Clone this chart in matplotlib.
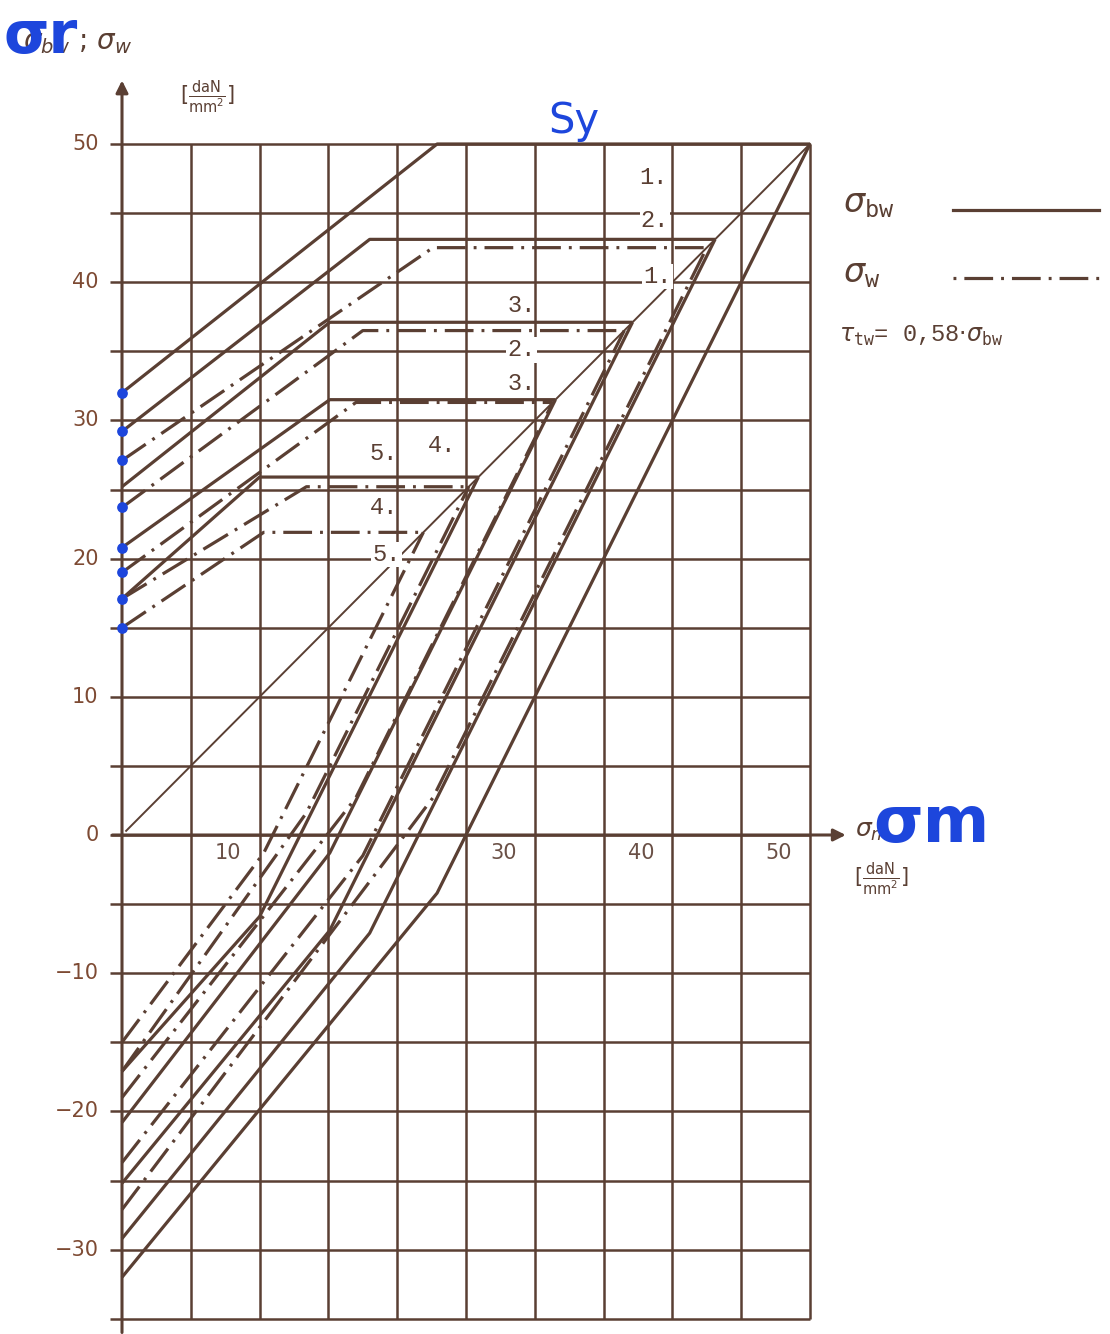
import numpy as np
import matplotlib
matplotlib.use('Agg')
import matplotlib.pyplot as plt

# Smith diagram data, units daN/mm2
# sigma_bw families (solid)
bw_sigma_a = [32.0, 29.2, 25.2, 20.8, 17.1]
bw_yield = [50.0, 43.1, 37.1, 31.5, 25.9]
bw_knee = [22.9, 18.0, 15.1, 15.1, 10.0]

# sigma_w families (dash-dot)
w_sigma_a = [27.1, 23.7, 19.0, 17.1, 15.0]
w_yield = [42.5, 36.5, 31.3, 25.2, 21.9]
w_knee = [22.6, 17.5, 17.0, 13.4, 10.3]

# blue marks drawn on the ordinate in the scan
blue_marks = [32.0, 29.2, 27.1, 23.7, 20.8, 19.0, 17.1, 15.0]

# curve numbers
label_text = ['1.', '2.', '1.', '3.', '2.', '3.', '5.', '4.', '4.', '5.']
label_x = [37.6, 37.7, 37.9, 28.0, 28.0, 28.0, 18.0, 22.2, 18.0, 18.2]
label_y = [47.6, 44.5, 40.4, 38.3, 35.1, 32.7, 27.6, 28.2, 23.7, 20.3]
label_boxed = [False, True, True, False, True, False, False, False, False, True]

y_ticks = [50, 40, 30, 20, 10, 0, -10, -20, -30]
x_ticks = [10, 30, 40, 50]

BROWN = '#5a3f33'
TXT = '#7d4a33'
BLUE = '#1d46dc'

# pixel scale of the scan (px per daN/mm2)
PX_X, PX_Y = 13.76, 13.82
X0, Y0 = 122, 835

fig = plt.figure(figsize=(11.1, 13.34), dpi=100)
ax = fig.add_axes([0, 0, 1, 1])
ax.set_xlim(-X0 / PX_X, (1110 - X0) / PX_X)
ax.set_ylim((Y0 - 1334) / PX_Y, Y0 / PX_Y)
ax.axis('off')

# grid
ax.vlines(np.arange(5, 51, 5), -35, 50, color=BROWN, lw=1.8, zorder=1)
ax.hlines(np.arange(-35, 51, 5), -0.9, 50, color=BROWN, lw=1.8, zorder=1)

# axes with arrows
ax.annotate('', xy=(0, 54.8), xytext=(0, -36.2),
            arrowprops=dict(arrowstyle='-|>', color=BROWN, lw=2.2, mutation_scale=18))
ax.annotate('', xy=(52.8, 0), xytext=(-0.9, 0),
            arrowprops=dict(arrowstyle='-|>', color=BROWN, lw=2.2, mutation_scale=18))

# 45 degree mean-stress line
ax.plot([0.3, 50], [0.3, 50], color=BROWN, lw=1.4, zorder=2)

dashdot = (0, (9, 2.5, 0.9, 2.5))


def smith_curves(sig_a, re, knee, style, lw):
    for sa, r, k in zip(sig_a, re, knee):
        xs = [0, k, r]
        upper = [sa, r, r]
        lower = [-sa, 2 * k - r, r]
        ax.plot(xs, upper, color=BROWN, lw=lw, ls=style, zorder=3,
                solid_capstyle='butt')
        ax.plot(xs, lower, color=BROWN, lw=lw, ls=style, zorder=3,
                solid_capstyle='butt')


smith_curves(bw_sigma_a, bw_yield, bw_knee, '-', 2.3)
smith_curves(w_sigma_a, w_yield, w_knee, dashdot, 2.3)

ax.scatter(np.zeros(len(blue_marks)), blue_marks, s=45, color=BLUE, zorder=6)

# curve numbers
for t, x, y, b in zip(label_text, label_x, label_y, label_boxed):
    kw = dict(boxstyle='square,pad=0.05', fc='white', ec='none') if b else None
    ax.text(x, y, t, fontsize=17, family='Liberation Mono', color=BROWN,
            ha='left', va='center', zorder=5, bbox=kw)

# tick labels
for v in y_ticks:
    ax.text(-1.7, v, str(v).replace('-', '\u2212'), fontsize=15, color=TXT,
            ha='right', va='center')
for v in x_ticks:
    ax.text(v - 2.3, -1.3, str(v), fontsize=15, color='#6a5046',
            ha='center', va='center')

# axis titles and units
unit = r'$[\frac{\mathrm{daN}}{\mathrm{mm}^2}]$'
ax.text(6.2, 53.4, unit, fontsize=15, color=BROWN, ha='center', va='center')
ax.text(55.2, -3.2, unit, fontsize=15, color=BROWN, ha='center', va='center')
ax.text(-7.2, 57.4, r'$\sigma_{bw}$ ; $\sigma_{w}$', fontsize=20, color=BROWN,
        ha='left', va='center')
ax.text(-8.6, 57.8, 'σr', fontsize=42, fontweight='bold', color=BLUE,
        ha='left', va='center', zorder=7)
ax.text(32.8, 51.7, 'Sy', fontsize=30, color=BLUE, ha='center', va='center')
ax.text(53.3, 0.3, r'$\sigma_m$', fontsize=18, color=BROWN, ha='left', va='center')
ax.text(54.6, 0.8, 'σm', fontsize=46, fontweight='bold', color=BLUE,
        ha='left', va='center', zorder=7)

# legend block
ax.text(52.4, 45.7, r'$\sigma_{\mathtt{bw}}$', fontsize=24, color=BROWN,
        ha='left', va='center')
ax.plot([60.4, 71.0], [45.2, 45.2], color=BROWN, lw=2.3)
ax.text(52.4, 40.6, r'$\sigma_{\mathtt{w}}$', fontsize=24, color=BROWN,
        ha='left', va='center')
ax.plot([60.4, 71.0], [40.3, 40.3], color=BROWN, lw=2.3, ls=(0, (0.9, 2.5, 9, 2.5)))
ax.text(52.1, 36.1, r'$\tau_{\mathtt{tw}}$= 0,58$\cdot\sigma_{\mathtt{bw}}$',
        fontsize=17, family='Liberation Mono', color=BROWN, ha='left', va='center')

fig.savefig('out.png', dpi=100, facecolor='white')
